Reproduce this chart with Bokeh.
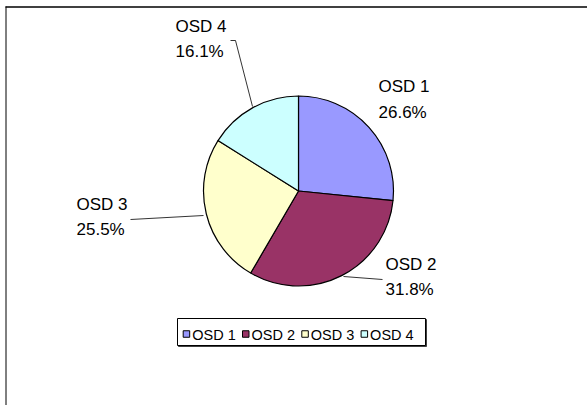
import numpy as np
from bokeh.plotting import figure
from bokeh.core.properties import value
from bokeh.embed import file_html
from bokeh.resources import INLINE

# Pie data
categories = ["OSD 1", "OSD 2", "OSD 3", "OSD 4"]
shares = [26.6, 31.8, 25.5, 16.1]
colors = ["#9999FF", "#993366", "#FFFFCC", "#CCFFFF"]

W, H = 587, 405
FONT = "Liberation Sans"


def Y(py):
    """Page pixel row (from top) -> plot y (from bottom)."""
    return H - py


p = figure(width=W, height=H, x_range=(0, W), y_range=(0, H),
           x_axis_type=None, y_axis_type=None, toolbar_location=None,
           output_backend="svg", min_border=0)
p.outline_line_color = None
p.background_fill_color = "white"
p.border_fill_color = "white"

# chart-area frame (top and left edges)
p.line(x=[5, W], y=[Y(6.5), Y(6.5)], line_color="#404040", line_width=2)
p.line(x=[5.5, 5.5], y=[Y(6), 0], line_color="black", line_width=1)

# pie slices, clockwise from 12 o'clock
cx, cy, R = 298, Y(190.5), 95
frac = np.array(shares) / sum(shares)
after = np.cumsum(frac)
before = after - frac
start = np.pi / 2 - 2 * np.pi * after
end = np.pi / 2 - 2 * np.pi * before
p.wedge(x=cx, y=cy, radius=R, start_angle=start, end_angle=end,
        fill_color=colors, line_color="black", line_width=1.2)

# data labels: left edge and vertical centre of the first line
label_pos = [(378, 86), (385, 263.5), (76, 203.5), (175, 25.5)]
line_gap = 25.5
names_x, names_y, pcts_y, pcts = [], [], [], []
for (lx, ly), v in zip(label_pos, shares):
    names_x.append(lx)
    names_y.append(Y(ly))
    pcts_y.append(Y(ly + line_gap))
    pcts.append(f"{v:.1f}%")
p.text(x=names_x, y=names_y, text=categories, text_font=value(FONT),
       text_font_size="17px", text_baseline="middle", text_align="left",
       text_color="black")
p.text(x=names_x, y=pcts_y, text=pcts, text_font=value(FONT),
       text_font_size="17px", text_baseline="middle", text_align="left",
       text_color="black")

# leader lines
leaders = [
    [(382, 279), (343, 276)],
    [(130, 219), (203, 215)],
    [(230, 40), (235, 40), (252, 106)],
]
p.multi_line(xs=[[pt[0] for pt in ln] for ln in leaders],
             ys=[[Y(pt[1]) for pt in ln] for ln in leaders],
             line_color="black", line_width=0.8)

# legend box with a thin drop shadow
lx0, lx1, ly0, ly1 = 177, 425, 318, 345
p.quad(left=lx0 + 1, right=lx1 + 1, top=Y(ly0 + 1), bottom=Y(ly1 + 1),
       fill_color="#404040", line_color="#404040")
p.quad(left=lx0, right=lx1, top=Y(ly0), bottom=Y(ly1),
       fill_color="white", line_color="black", line_width=1)

step = 59.3
sq_left = [182.7 + i * step for i in range(len(categories))]
sq_x = [s + 3.25 for s in sq_left]
tx_x = [s + 9 for s in sq_left]
p.rect(x=sq_x, y=[Y(333.5)] * len(categories), width=6.5, height=6.5,
       fill_color=colors, line_color="black", line_width=1)
p.text(x=tx_x, y=[Y(334.5)] * len(categories), text=categories,
       text_font=value(FONT), text_font_size="14.5px",
       text_baseline="middle", text_align="left", text_color="black")

open("out.html", "w").write(file_html(p, INLINE))
